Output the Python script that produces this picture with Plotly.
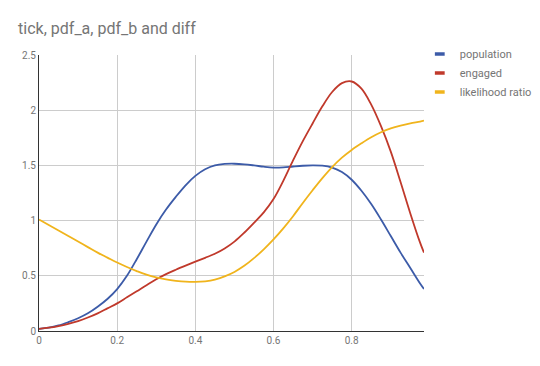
import plotly.graph_objects as go

ticks = [0, 0.025, 0.05, 0.075, 0.1, 0.125, 0.15, 0.175, 0.2, 0.225,
         0.25, 0.275, 0.3, 0.325, 0.35, 0.375, 0.4, 0.425, 0.45, 0.475,
         0.5, 0.525, 0.55, 0.575, 0.6, 0.625, 0.65, 0.675, 0.7, 0.725,
         0.75, 0.775, 0.8, 0.825, 0.85, 0.875, 0.9, 0.925, 0.95, 0.975, 0.985]
population = [0.02, 0.03, 0.05, 0.08, 0.115, 0.16, 0.22, 0.29, 0.38, 0.50,
              0.65, 0.81, 0.965, 1.10, 1.215, 1.32, 1.405, 1.465, 1.50, 1.513,
              1.515, 1.51, 1.50, 1.488, 1.48, 1.482, 1.49, 1.497, 1.50, 1.497,
              1.48, 1.44, 1.37, 1.27, 1.15, 1.01, 0.86, 0.71, 0.57, 0.43, 0.38]
engaged = [0.02, 0.03, 0.045, 0.065, 0.09, 0.122, 0.16, 0.205, 0.25, 0.305,
           0.36, 0.415, 0.468, 0.515, 0.555, 0.592, 0.628, 0.663, 0.70, 0.748,
           0.81, 0.89, 0.98, 1.075, 1.195, 1.36, 1.545, 1.72, 1.88, 2.035,
           2.165, 2.245, 2.26, 2.195, 2.05, 1.855, 1.625, 1.35, 1.065, 0.80, 0.71]
likelihood_ratio = [1.01, 0.96, 0.91, 0.86, 0.81, 0.76, 0.71, 0.665, 0.62, 0.58,
                    0.543, 0.51, 0.485, 0.467, 0.455, 0.447, 0.445, 0.45, 0.465, 0.495,
                    0.535, 0.59, 0.66, 0.74, 0.83, 0.93, 1.04, 1.16, 1.275, 1.385,
                    1.485, 1.57, 1.64, 1.70, 1.755, 1.80, 1.835, 1.86, 1.88, 1.897, 1.905]

series_names = ["population", "engaged", "likelihood ratio"]
colors = ["#3c5ba8", "#c0392b", "#f0b41c"]

fig = go.Figure()
for name, vals, c in zip(series_names, [population, engaged, likelihood_ratio], colors):
    fig.add_trace(go.Scatter(x=ticks, y=vals, name=name, mode="lines", showlegend=False,
                             line=dict(color=c, width=1.8, shape="spline", smoothing=1.0)))
    # legend entry with a short thick bar like the reference
    fig.add_trace(go.Scatter(x=[None], y=[None], name=name, mode="markers",
                             marker=dict(symbol="line-ew", size=7, color=c,
                                         line=dict(color=c, width=3.5))))

# page body has an 8px margin, so the figure is sized to fit the window
fig.update_layout(
    width=532, height=358,
    margin=dict(l=31, r=116, t=47, b=35, autoexpand=False),
    paper_bgcolor="white", plot_bgcolor="white",
    font=dict(family="Roboto, Arial, sans-serif", color="#757575", size=10),
    title=dict(text="tick, pdf_a, pdf_b and diff", xref="container", yref="container",
               x=0.019, xanchor="left", y=0.944, yanchor="middle", pad=dict(l=0, t=0, b=0, r=0),
               font=dict(size=16, color="#757575", family="Roboto, Arial, sans-serif")),
    legend=dict(xref="container", yref="container", x=0.774, y=0.912,
                xanchor="left", yanchor="top",
                font=dict(size=11, color="#757575"), tracegroupgap=0,
                itemwidth=30, bgcolor="rgba(0,0,0,0)"),
    showlegend=True,
)
fig.update_xaxes(range=[0, 0.985], tickvals=[0, 0.2, 0.4, 0.6, 0.8],
                 ticktext=["0", "0.2", "0.4", "0.6", "0.8"],
                 showgrid=True, gridcolor="#cccccc", gridwidth=1,
                 showline=True, linecolor="#333333", linewidth=1,
                 zeroline=False, ticks="", tickfont=dict(size=10, color="#757575"))
fig.update_yaxes(range=[0, 2.5], tickvals=[0, 0.5, 1, 1.5, 2, 2.5],
                 ticktext=["0", "0.5", "1", "1.5", "2", "2.5"],
                 showgrid=True, gridcolor="#cccccc", gridwidth=1,
                 showline=True, linecolor="#333333", linewidth=1,
                 zeroline=False, ticks="", tickfont=dict(size=10, color="#757575"))

fig.write_html("out.html")
